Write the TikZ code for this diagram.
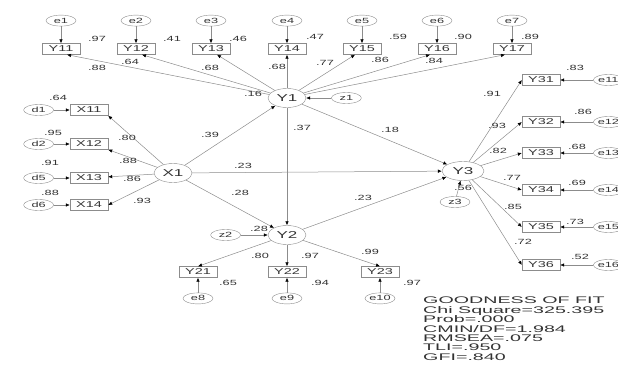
\documentclass[tikz,border=0pt]{standalone}
\usepackage{fontspec}
\setmainfont{Liberation Sans}
\newfontfamily\amos[FakeStretch=1.7]{Liberation Sans}
\newfontfamily\amosfit[FakeStretch=2.05]{Liberation Sans}
\usetikzlibrary{shapes,arrows.meta,positioning}
\definecolor{linegray}{gray}{0.55}
\definecolor{txtgray}{gray}{0.2}
\tikzstyle{obs}=[rectangle,draw=linegray,minimum width=38pt,minimum height=11pt,inner sep=0pt,text=txtgray,font=\amos\fontsize{8.5}{9}\selectfont]
\tikzstyle{lat}=[ellipse,draw=linegray,minimum width=38pt,minimum height=19pt,inner sep=0pt,text=txtgray,font=\amos\fontsize{10}{10}\selectfont]
\tikzstyle{err}=[ellipse,draw=linegray,minimum width=30pt,minimum height=11pt,inner sep=0pt,text=txtgray,font=\amos\fontsize{7.5}{8}\selectfont]
\tikzstyle{lab}=[inner sep=0pt,text=txtgray,font=\amos\fontsize{7.5}{8}\selectfont]
\tikzstyle{gof}=[inner sep=0pt,align=left,text=txtgray,font=\amosfit\fontsize{9.6}{9.4}\selectfont]
\tikzstyle{arr}=[-{Latex[length=4pt,width=3.5pt,color=black]},draw=linegray,line width=0.5pt]

\begin{document}
\begin{tikzpicture}[x=1pt,y=-1pt]
\useasboundingbox (0,0) rectangle (618,369);
\clip (0,0) rectangle (618,369);

% latent variables
\node[lat] (X1) at (173,173) {X1};
\node[lat] (Y1) at (287,98) {Y1};
\node[lat] (Y2) at (287,235) {Y2};
\node[lat,minimum width=42pt] (Y3) at (463,171) {Y3};
\node[err,right=25pt of Y1] (z1) {z1};
\node[err,left=27pt of Y2] (z2) {z2};
\node[err] (z3) at (455,202) {z3};

% indicators of Y1
\node[obs] (Y11) at (61,49) {Y11};
\node[obs] (Y12) at (136,49) {Y12};
\node[obs] (Y13) at (211,49) {Y13};
\node[obs] (Y14) at (287,49) {Y14};
\node[obs] (Y15) at (362,49) {Y15};
\node[obs] (Y16) at (437,49) {Y16};
\node[obs] (Y17) at (512,49) {Y17};
\node[err,above=17pt of Y11] (e1) {e1};
\node[err,above=17pt of Y12] (e2) {e2};
\node[err,above=17pt of Y13] (e3) {e3};
\node[err,above=17pt of Y14] (e4) {e4};
\node[err,above=17pt of Y15] (e5) {e5};
\node[err,above=17pt of Y16] (e6) {e6};
\node[err,above=17pt of Y17] (e7) {e7};

% indicators of X1
\node[obs] (X11) at (89,110) {X11};
\node[obs] (X12) at (89,144) {X12};
\node[obs] (X13) at (89,178) {X13};
\node[obs] (X14) at (89,205) {X14};
\node[err,left=16pt of X11] (d1) {d1};
\node[err,left=16pt of X12] (d2) {d2};
\node[err,left=16pt of X13] (d5) {d5};
\node[err,left=16pt of X14] (d6) {d6};

% indicators of Y2
\node[obs] (Y21) at (198,272) {Y21};
\node[obs] (Y22) at (287,272) {Y22};
\node[obs] (Y23) at (380,272) {Y23};
\node[err,below=15pt of Y21] (e8) {e8};
\node[err,below=15pt of Y22] (e9) {e9};
\node[err,below=15pt of Y23] (e10) {e10};

% indicators of Y3
\node[obs] (Y31) at (541,80) {Y31};
\node[obs] (Y32) at (541,122) {Y32};
\node[obs] (Y33) at (541,153) {Y33};
\node[obs] (Y34) at (541,190) {Y34};
\node[obs] (Y35) at (541,227) {Y35};
\node[obs] (Y36) at (541,265) {Y36};
\node[err,right=33pt of Y31] (e11) {e11};
\node[err,right=33pt of Y32] (e12) {e12};
\node[err,right=33pt of Y33] (e13) {e13};
\node[err,right=33pt of Y34] (e14) {e14};
\node[err,right=33pt of Y35] (e15) {e15};
\node[err,right=33pt of Y36] (e16) {e16};

% paths
\draw[arr] (e1) -- (Y11);
\draw[arr] (e2) -- (Y12);
\draw[arr] (e3) -- (Y13);
\draw[arr] (e4) -- (Y14);
\draw[arr] (e5) -- (Y15);
\draw[arr] (e6) -- (Y16);
\draw[arr] (e7) -- (Y17);
\draw[arr] (Y1) -- ([xshift=6pt]Y11.south);
\draw[arr] (Y1) -- ([xshift=6pt]Y12.south);
\draw[arr] (Y1) -- ([xshift=6pt]Y13.south);
\draw[arr] (Y1) -- (Y14);
\draw[arr] (Y1) -- ([xshift=-7pt]Y15.south);
\draw[arr] (Y1) -- ([xshift=-7pt]Y16.south);
\draw[arr] (Y1) -- ([xshift=-7pt]Y17.south);
\draw[arr] (z1) -- (Y1);

\draw[arr] (d1) -- (X11);
\draw[arr] (d2) -- (X12);
\draw[arr] (d5) -- (X13);
\draw[arr] (d6) -- (X14);
\draw[arr] (X1) -- (X11.south east);
\draw[arr] (X1) -- (X12.south east);
\draw[arr] (X1) -- (X13);
\draw[arr] (X1) -- (X14.east);

\draw[arr] (X1) -- (Y1);
\draw[arr] (X1) -- (Y2);
\draw[arr] (X1) -- (Y3);
\draw[arr] (Y1) -- (Y2);
\draw[arr] (Y1) -- (Y3);
\draw[arr] (Y2) -- (Y3);
\draw[arr] (z2) -- (Y2);
\draw[arr] (z3) -- (Y3);

\draw[arr] (Y2) -- (Y21.north);
\draw[arr] (Y2) -- (Y22);
\draw[arr] (Y2) -- (Y23.north);
\draw[arr] (e8) -- (Y21);
\draw[arr] (e9) -- (Y22);
\draw[arr] (e10) -- (Y23);

\draw[arr] (Y3) -- (Y31.west);
\draw[arr] (Y3) -- (Y32.west);
\draw[arr] (Y3) -- (Y33.west);
\draw[arr] (Y3) -- (Y34.west);
\draw[arr] (Y3) -- (Y35.west);
\draw[arr] (Y3) -- (Y36.west);
\draw[arr] (e11) -- (Y31);
\draw[arr] (e12) -- (Y32);
\draw[arr] (e13) -- (Y33);
\draw[arr] (e14) -- (Y34);
\draw[arr] (e15) -- (Y35);
\draw[arr] (e16) -- (Y36);

% estimates
\node[lab] (r11) at (97,39) {.97};
\node[lab] (r12) at (172,39) {.41};
\node[lab] (r13) at (238,39) {.46};
\node[lab] (r14) at (315,37) {.47};
\node[lab] (r15) at (398,37) {.59};
\node[lab] (r16) at (463,37) {.90};
\node[lab] (r17) at (530,37) {.89};
\node[lab] (l11) at (97,68) {.88};
\node[lab] (l12) at (130,62) {.64};
\node[lab] (l13) at (210,68) {.68};
\node[lab] (l14) at (277,67) {.68};
\node[lab] (l15) at (325,63) {.77};
\node[lab] (l16) at (380,60) {.86};
\node[lab] (l17) at (434,61) {.84};
\node[lab] (rY1) at (253,94) {.16};
\node[lab] (rY2) at (259,229) {.28};
\node[lab] (rY3) at (463,188) {.56};

\node[lab] (bX1Y1) at (210,135) {.39};
\node[lab] (bX1Y3) at (243,166) {.23};
\node[lab] (bX1Y2) at (240,193) {.28};
\node[lab] (bY1Y2) at (302,128) {.37};
\node[lab] (bY1Y3) at (390,130) {.18};
\node[lab] (bY2Y3) at (363,198) {.23};

\node[lab] (rX11) at (58,98) {.64};
\node[lab] (rX12) at (53,133) {.95};
\node[lab] (rX13) at (50,163) {.91};
\node[lab] (rX14) at (50,193) {.88};
\node[lab] (lX11) at (127,138) {.80};
\node[lab] (lX12) at (128,161) {.88};
\node[lab] (lX13) at (132,179) {.86};
\node[lab] (lX14) at (142,201) {.93};

\node[lab] (l21) at (260,256) {.80};
\node[lab] (l22) at (310,256) {.97};
\node[lab] (l23) at (370,252) {.99};
\node[lab] (r21) at (228,283) {.65};
\node[lab] (r22) at (320,283) {.94};
\node[lab] (r23) at (412,283) {.97};

\node[lab] (l31) at (492,94) {.91};
\node[lab] (l32) at (497,126) {.93};
\node[lab] (l33) at (498,151) {.82};
\node[lab] (l34) at (512,178) {.77};
\node[lab] (l35) at (513,207) {.85};
\node[lab] (l36) at (523,242) {.72};
\node[lab] (r31) at (575,68) {.83};
\node[lab] (r32) at (583,112) {.86};
\node[lab] (r33) at (577,147) {.68};
\node[lab] (r34) at (577,183) {.69};
\node[lab] (r35) at (575,222) {.73};
\node[lab] (r36) at (580,257) {.52};

% fit indices
\node[gof,anchor=north west] (gof) at (423,297) {GOODNESS OF FIT\\Chi Square=325.395\\Prob=.000\\CMIN/DF=1.984\\RMSEA=.075\\TLI=.950\\GFI=.840};
\end{tikzpicture}
\end{document}
